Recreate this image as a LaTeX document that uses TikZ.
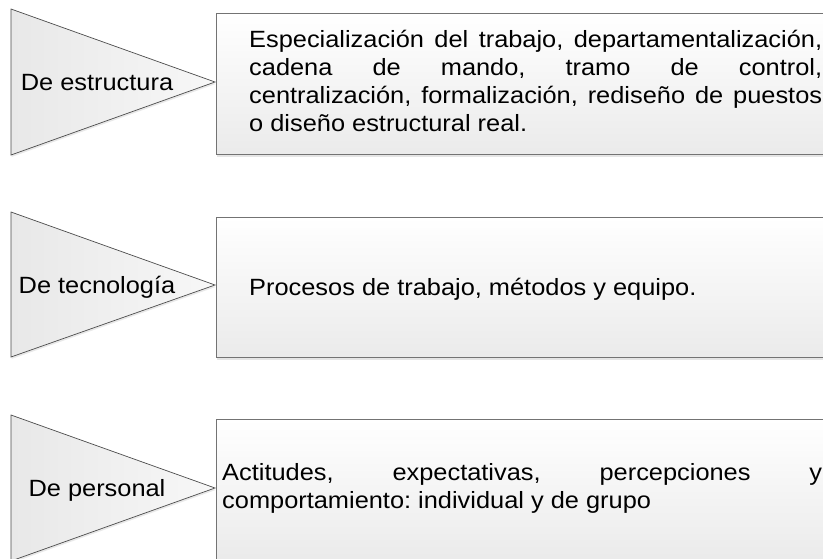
\documentclass[tikz,border=0pt]{standalone}
\usepackage{fontspec}
\setmainfont[FakeStretch=1.08]{Liberation Sans}
\usetikzlibrary{shadows,positioning}
\frenchspacing

\begin{document}
\begin{tikzpicture}[x=1pt,y=-1pt,
    flecha/.style={draw=black!70,line width=0.7pt,left color=black!9,right color=black!3,
      drop shadow={shadow xshift=0.5pt,shadow yshift=-2pt,opacity=0.18}},
    caja/.style={draw=black!55,line width=0.9pt,top color=white,bottom color=black!8,
      drop shadow={shadow xshift=1pt,shadow yshift=-2.5pt,opacity=0.2}},
    etiqueta/.style={font=\fontsize{23.5}{28}\selectfont,inner sep=0pt,
      execute at begin node={\frenchspacing\tolerance=10000\hbadness=10000\hyphenpenalty=10000}},
    parrafo/.style={etiqueta,align=justify,anchor=base west}]
  \useasboundingbox (0,0) rectangle (823,558);
  \clip (0,0) rectangle (823,558);
  \fill[white] (0,0) rectangle (823,558);

  % De estructura
  \draw[caja] (216,13) rectangle (860,154);
  \draw[flecha] (11,9) -- (215,82) -- (11,155) -- cycle;
  \node[etiqueta,anchor=base] (estructura) at (97,90) {De estructura};
  \node[parrafo,text width=573pt] (textoEstructura) at (249,47)
    {Especialización del trabajo, departamentalización,\linebreak
     cadena de mando, tramo de control,\linebreak
     centralización, formalización, rediseño de puestos\linebreak
     o diseño estructural real.};

  % De tecnologia
  \draw[caja] (216,217) rectangle (860,357);
  \draw[flecha] (11,212) -- (215,285) -- (11,357) -- cycle;
  \node[etiqueta,anchor=base] (tecnologia) at (97,293) {De tecnología};
  \node[etiqueta,anchor=base west] (textoTecnologia) at (249,295)
    {Procesos de trabajo, métodos y equipo.};

  % De personal
  \draw[caja] (216,419) rectangle (860,560);
  \draw[flecha] (11,415) -- (215,488) -- (11,561) -- cycle;
  \node[etiqueta,anchor=base] (personal) at (97,496) {De personal};
  \node[parrafo,text width=600pt] (textoPersonal) at (222,480)
    {Actitudes, expectativas, percepciones y\linebreak
     comportamiento: individual y de grupo};
\end{tikzpicture}
\end{document}
